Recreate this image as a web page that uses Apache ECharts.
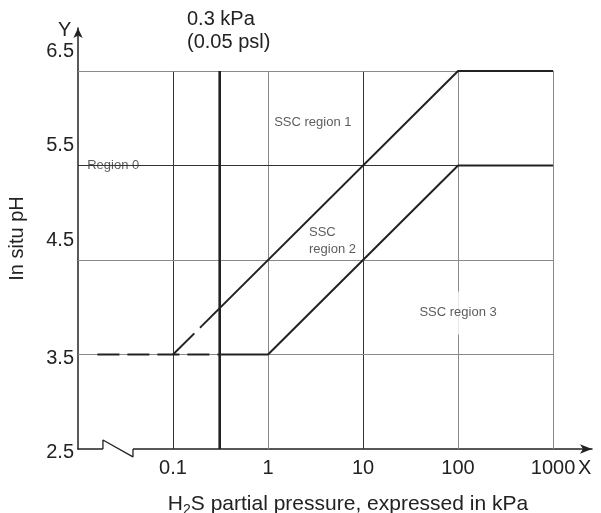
<!DOCTYPE html>
<html>
<head>
<meta charset="utf-8">
<script src="https://cdn.jsdelivr.net/npm/echarts@6/dist/echarts.min.js"></script>
<style>
html, body { margin: 0; padding: 0; background: #fff; }
#chart { width: 601px; height: 513px; }
</style>
</head>
<body>
<div id="chart"></div>
<script>
// axis ticks
var xTicks = [0.1, 1, 10, 100, 1000];
var yTicks = [2.5, 3.5, 4.5, 5.5, 6.5];
// grid lines drawn inside the plot
var gridX = [0.1, 1, 10, 100, 1000];
var gridY = [3.5, 4.5, 5.5, 6.5];
var darkX = [0.1, 10];
var darkY = [5.5];

// boundary lines (H2S kPa, pH)
var upperDashX = [0.1, 0.2];
var upperDashY = [3.5, 3.8];
var upperX = [0.2, 100, 1000];
var upperY = [3.8, 6.5, 6.5];
var lowerDashX = [0.016, 0.31];
var lowerDashY = [3.5, 3.5];
var lowerX = [0.31, 1, 100, 1000];
var lowerY = [3.5, 3.5, 5.5, 5.5];
var limitX = 0.31; // 0.3 kPa line

// region labels
var regionNames = ['Region 0', 'SSC region 1', 'SSC\nregion 2', 'SSC region 3'];
var regionX = [0.0125, 1.16, 2.7, 100];
var regionY = [5.5, 5.96, 4.7, 3.94];

// axis break on x
var breakX = [0.0183, 0.0379];

var dom = document.getElementById("chart");
var myChart = echarts.init(dom);
var font = '"Liberation Sans", Arial, sans-serif';

function zip(xs, ys) {
    var arr = [];
    for (var i = 0; i < xs.length; i++) arr.push([xs[i], ys[i]]);
    return arr;
}

var gridLines = [];
gridX.forEach(function (x) {
    gridLines.push({
        coords: [[x, 2.5], [x, 6.5]],
        lineStyle: { color: darkX.indexOf(x) >= 0 ? '#333' : '#8a8a8a' }
    });
});
gridY.forEach(function (y) {
    gridLines.push({
        coords: [[0.01, y], [1000, y]],
        lineStyle: { color: darkY.indexOf(y) >= 0 ? '#333' : '#8a8a8a' }
    });
});

var labelData = [];
for (var i = 0; i < regionNames.length; i++) {
    labelData.push({
        value: [regionX[i], regionY[i]],
        label: i === 3 ? {
            align: 'center',
            backgroundColor: '#fff',
            padding: [13, 3]
        } : { align: 'left' }
    });
}

var lineStyle = { color: '#222', width: 2 };

option = {
    animation: false,
    grid: {
        left: 78,
        right: 9,
        top: 28,
        bottom: 64,
        outerBoundsMode: 'none'
    },
    xAxis: {
        type: 'log',
        logBase: 10,
        min: 0.01,
        max: 2570,
        interval: 1,
        name: 'H{sub|2}S partial pressure, expressed in kPa',
        nameLocation: 'middle',
        nameGap: 42,
        nameTextStyle: {
            fontFamily: font,
            fontSize: 21,
            color: '#222',
            padding: [0, 0, 0, 26],
            rich: {
                sub: { fontSize: 14, verticalAlign: 'bottom', padding: [12, 0, 0, 0], fontFamily: font, color: '#222' }
            }
        },
        axisLine: {
            lineStyle: { color: '#222', width: 1.5 },
            symbol: ['none', 'arrow'],
            symbolSize: [7, 12]
        },
        axisTick: { show: false },
        splitLine: { show: false },
        axisLabel: {
            fontFamily: font,
            fontSize: 20,
            color: '#222',
            margin: 9,
            formatter: function (v) {
                var r = +(+v).toPrecision(3);
                return xTicks.indexOf(r) >= 0 ? String(r) : '';
            }
        }
    },
    yAxis: {
        type: 'value',
        min: 2.5,
        max: 6.955,
        interval: 1,
        name: 'In situ pH',
        nameLocation: 'middle',
        nameRotate: 90,
        nameGap: 51,
        nameTextStyle: { fontFamily: font, fontSize: 20, color: '#222' },
        axisLine: {
            show: true,
            lineStyle: { color: '#222', width: 1.5 },
            symbol: ['none', 'arrow'],
            symbolSize: [7, 10]
        },
        axisTick: { show: false },
        splitLine: { show: false },
        axisLabel: {
            fontFamily: font,
            fontSize: 20,
            color: '#222',
            margin: 4,
            formatter: function (v) {
                var r = Math.round(v * 10) / 10;
                if (yTicks.indexOf(r) < 0 || Math.abs(v - r) > 1e-6) return '';
                return r >= 4.5 ? '{up|' + r.toFixed(1) + '}' : '{dn|' + r.toFixed(1) + '}';
            },
            rich: {
                up: { fontFamily: font, fontSize: 20, color: '#222', padding: [0, 0, 40, 0] },
                dn: { fontFamily: font, fontSize: 20, color: '#222', padding: [7, 0, 0, 0] }
            }
        }
    },
    graphic: [
        { type: 'text', left: 187, top: 8, style: { text: '0.3 kPa\n(0.05 psl)', font: '20px ' + font, fill: '#222', lineHeight: 23 } },
        { type: 'text', left: 58, top: 20, style: { text: 'Y', font: '20px ' + font, fill: '#222' } },
        { type: 'text', left: 578, top: 458, style: { text: 'X', font: '20px ' + font, fill: '#222' } }
    ],
    series: [
        {
            type: 'lines',
            coordinateSystem: 'cartesian2d',
            polyline: false,
            z: 1,
            silent: true,
            lineStyle: { width: 1, opacity: 1 },
            data: gridLines
        },
        {
            type: 'line',
            z: 3,
            symbol: 'none',
            lineStyle: { color: '#222', width: 2.6 },
            data: [[limitX, 2.5], [limitX, 6.5]]
        },
        {
            type: 'line',
            z: 3,
            symbol: 'none',
            lineStyle: { color: '#222', width: 2, type: [30, 8] },
            data: zip(upperDashX, upperDashY)
        },
        {
            type: 'line',
            z: 3,
            symbol: 'none',
            lineStyle: lineStyle,
            data: zip(upperX, upperY)
        },
        {
            type: 'line',
            z: 3,
            symbol: 'none',
            lineStyle: { color: '#222', width: 2, type: [22, 8] },
            data: zip(lowerDashX, lowerDashY)
        },
        {
            type: 'line',
            z: 3,
            symbol: 'none',
            lineStyle: lineStyle,
            data: zip(lowerX, lowerY)
        },
        {
            // axis break: blank out the axis then draw the zigzag
            type: 'line',
            z: 4,
            symbol: 'none',
            clip: false,
            lineStyle: { color: '#fff', width: 4 },
            data: [[breakX[0], 2.5], [breakX[1], 2.5]]
        },
        {
            type: 'line',
            z: 5,
            symbol: 'none',
            clip: false,
            lineStyle: { color: '#222', width: 1.3 },
            data: [[breakX[0], 2.5], [breakX[0], 2.595], [breakX[1], 2.416], [breakX[1], 2.5]]
        },
        {
            type: 'scatter',
            z: 6,
            symbolSize: 0,
            silent: true,
            label: {
                show: true,
                position: 'inside',
                verticalAlign: 'middle',
                fontFamily: font,
                fontSize: 13,
                color: '#333',
                lineHeight: 17,
                formatter: function (p) { return regionNames[p.dataIndex]; }
            },
            data: labelData
        }
    ]
};

if (option && typeof option === "object") {
    myChart.setOption(option, true);
}

window.onresize = function () {
    myChart.resize()
}
</script>
</body>
</html>
